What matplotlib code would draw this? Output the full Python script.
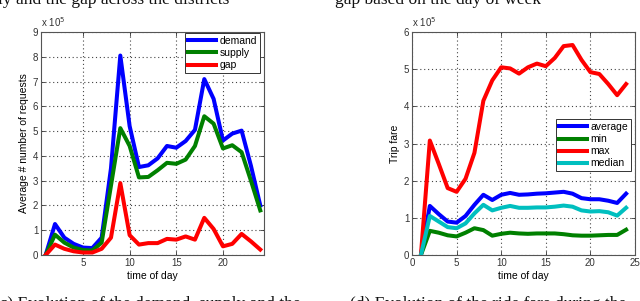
import matplotlib
matplotlib.use("Agg")
import matplotlib.pyplot as plt

# ---------------- DATA (values in units of 1e5) ----------------
hours = list(range(1, 25))

demand = [0, 1.25, 0.7, 0.45, 0.3, 0.28, 0.7, 3.5, 8.05, 5.2, 3.55, 3.62,
          3.9, 4.4, 4.33, 4.6, 5.05, 7.1, 6.3, 4.62, 4.9, 5.02, 3.6, 2.0]
supply = [0, 0.82, 0.5, 0.3, 0.2, 0.18, 0.5, 2.8, 5.12, 4.4, 3.13, 3.15,
          3.42, 3.72, 3.68, 3.85, 4.4, 5.6, 5.3, 4.3, 4.43, 4.15, 3.0, 1.8]
gap = [0, 0.42, 0.25, 0.15, 0.1, 0.1, 0.25, 0.7, 2.9, 0.8, 0.42, 0.48,
       0.48, 0.65, 0.62, 0.75, 0.62, 1.5, 1.05, 0.35, 0.45, 0.85, 0.55, 0.22]

fare_avg = [0, 1.32, 1.1, 0.9, 0.87, 1.05, 1.35, 1.62, 1.48, 1.62, 1.67, 1.62,
            1.63, 1.65, 1.66, 1.68, 1.7, 1.65, 1.53, 1.5, 1.5, 1.46, 1.4, 1.65]
fare_min = [0, 0.65, 0.6, 0.53, 0.5, 0.6, 0.72, 0.67, 0.52, 0.57, 0.6, 0.58,
            0.57, 0.58, 0.58, 0.58, 0.56, 0.53, 0.52, 0.52, 0.53, 0.54, 0.54, 0.68]
fare_max = [0, 3.08, 2.45, 1.8, 1.7, 2.05, 2.75, 4.15, 4.7, 5.05, 5.02, 4.88,
            5.05, 5.15, 5.08, 5.3, 5.62, 5.65, 5.25, 4.92, 4.87, 4.6, 4.3, 4.6]
fare_med = [0, 1.05, 0.9, 0.75, 0.72, 0.85, 1.12, 1.35, 1.2, 1.27, 1.32, 1.27,
            1.27, 1.28, 1.28, 1.3, 1.33, 1.3, 1.2, 1.17, 1.18, 1.15, 1.06, 1.27]

scale = 1e5

plt.rcParams["font.family"] = ["Liberation Sans", "DejaVu Sans"]
plt.rcParams["font.size"] = 7

fig = plt.figure(figsize=(6.4, 3.01), dpi=100)
W, H = 640, 301


def add_ax(x0, y0, x1, y1):
    return fig.add_axes([x0 / W, 1 - y1 / H, (x1 - x0) / W, (y1 - y0) / H])


def style(ax):
    ax.grid(True, linestyle=(0, (1, 2.5)), color="#444444", linewidth=0.8)
    ax.tick_params(direction="in", top=True, right=True, length=3,
                   width=0.6, colors="#333333", labelsize=7, pad=2)
    for s in ax.spines.values():
        s.set_color("#555555")
        s.set_linewidth(0.8)


lw = 2.9
leg_kw = dict(fontsize=7.5, fancybox=False, edgecolor="#333333",
              handlelength=2.7, borderpad=0.3, labelspacing=0.2,
              handletextpad=0.3, borderaxespad=0.0, framealpha=1)

# ---------------- LEFT: demand / supply / gap ----------------
ax1 = add_ax(41, 32, 264, 255)
ax1.plot(hours, [v * scale for v in demand], color="#0000ff", lw=lw, label="demand")
ax1.plot(hours, [v * scale for v in supply], color="#008000", lw=lw, label="supply")
ax1.plot(hours, [v * scale for v in gap], color="#ff0000", lw=lw, label="gap")
ax1.set_xlim(0.5, 24.4)
ax1.set_ylim(0, 9 * scale)
ax1.set_xticks([5, 10, 15, 20])
ax1.set_yticks([i * scale for i in range(10)])
ax1.set_yticklabels([str(i) for i in range(10)])
style(ax1)
ax1.set_xlabel("time of day", fontsize=7.5, labelpad=2)
ax1.set_ylabel("Average # number of requests", fontsize=7.5, labelpad=3)
ax1.text(0.0, 1.015, r"x 10$^5$", transform=ax1.transAxes, fontsize=7,
         ha="left", va="bottom", color="#333333")
leg1 = ax1.legend(loc="upper right", bbox_to_anchor=(0.982, 0.996), **leg_kw)
leg1.get_frame().set_linewidth(0.7)

# ---------------- RIGHT: trip fare ----------------
ax2 = add_ax(412, 32, 635, 255)
ax2.plot(hours, [v * scale for v in fare_avg], color="#0000ff", lw=lw, label="average")
ax2.plot(hours, [v * scale for v in fare_min], color="#008000", lw=lw, label="min")
ax2.plot(hours, [v * scale for v in fare_max], color="#ff0000", lw=lw, label="max")
ax2.plot(hours, [v * scale for v in fare_med], color="#00bfbf", lw=lw, label="median")
ax2.set_xlim(0, 25)
ax2.set_ylim(0, 6 * scale)
ax2.set_xticks([0, 5, 10, 15, 20, 25])
ax2.set_yticks([i * scale for i in range(7)])
ax2.set_yticklabels([str(i) for i in range(7)])
style(ax2)
ax2.set_xlabel("time of day", fontsize=7.5, labelpad=2)
ax2.set_ylabel("Trip fare", fontsize=7.5, labelpad=3)
ax2.text(0.0, 1.015, r"x 10$^5$", transform=ax2.transAxes, fontsize=7,
         ha="left", va="bottom", color="#333333")
leg2 = ax2.legend(loc="upper right", bbox_to_anchor=(0.982, 0.61), **leg_kw)
leg2.get_frame().set_linewidth(0.7)

# ---------------- cut-off caption lines of the page ----------------
cap = dict(family=["Liberation Serif", "DejaVu Serif"], fontsize=12.5, color="#111111")
fig.text(-0.003, 1 - 4.5 / H, "ly and the gap across the districts", ha="left",
         va="baseline", **cap)
fig.text(335 / W, 1 - 4.5 / H, "gap based on the day of week", ha="left",
         va="baseline", **cap)
fig.text(-0.01, 1 - 308 / H, "(c) Evolution of the demand, supply and the",
         ha="left", va="baseline", **cap)
fig.text(350 / W, 1 - 308 / H, "(d) Evolution of the ride fare during the",
         ha="left", va="baseline", **cap)

fig.savefig("out.png", dpi=100)
